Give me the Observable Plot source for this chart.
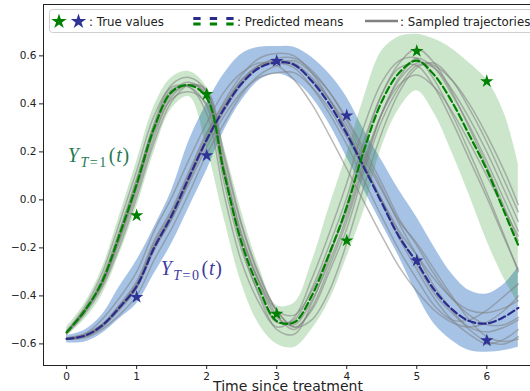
<!DOCTYPE html>
<html><head><meta charset="utf-8">
<script src="https://cdn.jsdelivr.net/npm/d3@7"></script>
<script src="https://cdn.jsdelivr.net/npm/@observablehq/plot@0.6"></script>
<style>html,body{margin:0;padding:0;background:#fff;} svg{display:block}</style>
</head><body><div id="chart"></div>
<script>
// ---- data ----
const times = [0,0.25,0.5,0.75,1,1.25,1.5,1.75,2,2.25,2.5,2.75,3,3.25,3.5,3.75,4,4.25,4.5,4.75,5,5.25,5.5,5.75,6,6.25,6.45];

const greenMean = [-0.552,-0.465,-0.345,-0.15,0.065,0.30,0.45,0.478,0.425,0.11,-0.18,-0.37,-0.505,-0.51,-0.40,-0.225,-0.03,0.21,0.41,0.53,0.58,0.52,0.41,0.27,0.125,-0.05,-0.19];
const greenHi   = [-0.530,-0.435,-0.29,-0.07,0.16,0.39,0.51,0.535,0.47,0.22,-0.05,-0.28,-0.44,-0.43,-0.26,-0.03,0.19,0.43,0.62,0.68,0.69,0.67,0.63,0.57,0.50,0.36,0.15];
const greenLo   = [-0.568,-0.50,-0.40,-0.23,-0.03,0.20,0.38,0.43,0.22,-0.08,-0.35,-0.52,-0.60,-0.615,-0.54,-0.42,-0.24,-0.04,0.22,0.38,0.455,0.36,0.20,0.02,-0.17,-0.33,-0.43];

const blueMean = [-0.579,-0.567,-0.525,-0.45,-0.36,-0.20,-0.065,0.095,0.25,0.38,0.485,0.55,0.573,0.563,0.495,0.40,0.275,0.133,-0.012,-0.155,-0.26,-0.375,-0.455,-0.505,-0.515,-0.487,-0.45];
const blueHi   = [-0.565,-0.544,-0.482,-0.364,-0.253,-0.114,0.039,0.247,0.40,0.525,0.608,0.636,0.639,0.636,0.594,0.525,0.428,0.289,0.164,0.039,-0.072,-0.197,-0.308,-0.378,-0.392,-0.35,-0.281];
const blueLo   = [-0.595,-0.593,-0.558,-0.496,-0.433,-0.308,-0.183,-0.031,0.122,0.289,0.414,0.497,0.525,0.497,0.428,0.317,0.178,0.039,-0.1,-0.239,-0.392,-0.517,-0.586,-0.628,-0.635,-0.628,-0.614];

const greenSamples = [
  [-0.545,-0.45,-0.31,-0.10,0.12,0.35,0.47,0.47,0.36,0.02,-0.26,-0.43,-0.53,-0.49,-0.33,-0.14,0.07,0.31,0.49,0.58,0.59,0.50,0.36,0.20,0.03,-0.15,-0.30],
  [-0.56,-0.48,-0.37,-0.20,0.01,0.24,0.41,0.48,0.46,0.19,-0.10,-0.31,-0.46,-0.53,-0.46,-0.30,-0.12,0.12,0.33,0.47,0.56,0.55,0.46,0.34,0.20,0.04,-0.09],
  [-0.55,-0.47,-0.34,-0.14,0.08,0.32,0.48,0.51,0.45,0.12,-0.19,-0.40,-0.54,-0.56,-0.43,-0.24,-0.02,0.23,0.44,0.57,0.63,0.57,0.45,0.30,0.14,-0.03,-0.17],
  [-0.55,-0.46,-0.35,-0.16,0.05,0.28,0.42,0.45,0.40,0.10,-0.16,-0.34,-0.46,-0.48,-0.38,-0.22,-0.05,0.17,0.36,0.48,0.52,0.47,0.37,0.24,0.10,-0.04,-0.15],
  [-0.552,-0.47,-0.35,-0.16,0.06,0.30,0.45,0.49,0.43,0.13,-0.15,-0.35,-0.49,-0.52,-0.42,-0.26,-0.07,0.15,0.36,0.50,0.57,0.56,0.50,0.40,0.27,0.12,-0.02],
  [-0.55,-0.46,-0.33,-0.13,0.09,0.31,0.46,0.47,0.39,0.07,-0.21,-0.39,-0.51,-0.50,-0.37,-0.19,0.01,0.25,0.44,0.55,0.56,0.47,0.33,0.17,0.01,-0.16,-0.29],
  [-0.555,-0.465,-0.355,-0.17,0.05,0.29,0.44,0.48,0.44,0.14,-0.14,-0.34,-0.48,-0.54,-0.45,-0.28,-0.09,0.14,0.36,0.51,0.59,0.55,0.44,0.31,0.16,0.00,-0.13],
  [-0.555,-0.47,-0.36,-0.18,0.03,0.26,0.43,0.48,0.45,0.17,-0.11,-0.32,-0.46,-0.53,-0.50,-0.38,-0.18,0.06,0.28,0.45,0.55,0.57,0.50,0.38,0.24,0.08,-0.05]
];
const blueSamples = [
  [-0.575,-0.56,-0.50,-0.41,-0.30,-0.13,0.01,0.17,0.32,0.45,0.53,0.57,0.56,0.50,0.40,0.27,0.13,-0.01,-0.15,-0.28,-0.38,-0.46,-0.51,-0.53,-0.51,-0.46,-0.40],
  [-0.58,-0.575,-0.54,-0.48,-0.40,-0.25,-0.12,0.03,0.19,0.32,0.44,0.52,0.56,0.58,0.53,0.45,0.34,0.21,0.07,-0.08,-0.19,-0.31,-0.41,-0.48,-0.52,-0.52,-0.49],
  [-0.58,-0.57,-0.53,-0.45,-0.35,-0.18,-0.05,0.11,0.27,0.41,0.52,0.59,0.61,0.60,0.53,0.42,0.29,0.14,-0.01,-0.16,-0.29,-0.41,-0.50,-0.56,-0.60,-0.58,-0.54],
  [-0.575,-0.56,-0.52,-0.45,-0.36,-0.20,-0.08,0.07,0.22,0.35,0.45,0.51,0.53,0.53,0.47,0.38,0.26,0.13,0.00,-0.13,-0.23,-0.33,-0.41,-0.46,-0.47,-0.45,-0.42],
  [-0.58,-0.565,-0.525,-0.44,-0.35,-0.19,-0.06,0.10,0.26,0.39,0.49,0.56,0.58,0.56,0.50,0.42,0.31,0.17,0.04,-0.09,-0.18,-0.29,-0.40,-0.50,-0.57,-0.59,-0.58],
  [-0.577,-0.565,-0.52,-0.44,-0.34,-0.17,-0.04,0.12,0.28,0.40,0.50,0.56,0.57,0.55,0.47,0.36,0.23,0.08,-0.07,-0.21,-0.33,-0.44,-0.50,-0.50,-0.46,-0.40,-0.35],
  [-0.58,-0.57,-0.53,-0.46,-0.37,-0.21,-0.08,0.08,0.24,0.37,0.48,0.55,0.58,0.57,0.51,0.42,0.29,0.15,0.00,-0.14,-0.27,-0.39,-0.47,-0.53,-0.55,-0.53,-0.50],
  [-0.578,-0.568,-0.53,-0.455,-0.36,-0.19,-0.07,0.09,0.25,0.39,0.50,0.56,0.59,0.59,0.54,0.45,0.33,0.19,0.05,-0.10,-0.23,-0.36,-0.46,-0.54,-0.59,-0.60,-0.57]
];

const starTimes = [1,2,3,4,5,6];
const greenTrue = [-0.065,0.44,-0.475,-0.17,0.62,0.494];
const blueTrue  = [-0.405,0.185,0.578,0.351,-0.253,-0.586];

const xTicks = [0,1,2,3,4,5,6];
const yTicks = [-0.6,-0.4,-0.2,0.0,0.2,0.4,0.6];

// ---- colours ----
const GREEN = "#008000", NAVY = "#2b2b8c", BLUEFILL = "#2a6fc4", STARBLUE = "#2f3396";

// ---- tables ----
const band = (lo, hi) => times.map((t, i) => ({t, lo: lo[i], hi: hi[i]}));
const series = (v) => times.map((t, i) => ({t, v: v[i]}));
const samples = (arr, g) => arr.flatMap((s, k) => times.map((t, i) => ({t, v: s[i], id: g + k})));
const stars = (v) => starTimes.map((t, i) => ({t, v: v[i]}));

const plot = Plot.plot({
  width: 530, height: 391,
  marginLeft: 43, marginRight: 0, marginTop: 4, marginBottom: 26,
  x: {domain: [-0.33, 6.624], label: null},
  y: {domain: [-0.690, 0.814], label: null},
  style: {fontFamily: "DejaVu Sans", fontSize: "10.5px", color: "#222", background: "#fff"},
  marks: [
    Plot.areaY(band(blueLo, blueHi), {x: "t", y1: "lo", y2: "hi", fill: BLUEFILL, fillOpacity: 0.42, curve: "catmull-rom"}),
    Plot.areaY(band(greenLo, greenHi), {x: "t", y1: "lo", y2: "hi", fill: GREEN, fillOpacity: 0.2, curve: "catmull-rom"}),
    Plot.line(samples(blueSamples, "b"), {x: "t", y: "v", z: "id", stroke: "gray", strokeOpacity: 0.55, strokeWidth: 1.5, curve: "catmull-rom"}),
    Plot.line(samples(greenSamples, "g"), {x: "t", y: "v", z: "id", stroke: "gray", strokeOpacity: 0.55, strokeWidth: 1.5, curve: "catmull-rom"}),
    Plot.line(series(blueMean), {x: "t", y: "v", stroke: NAVY, strokeWidth: 2.2, strokeDasharray: "7,3.5", curve: "catmull-rom"}),
    Plot.line(series(greenMean), {x: "t", y: "v", stroke: GREEN, strokeWidth: 2.2, strokeDasharray: "7,3.5", curve: "catmull-rom"}),
    Plot.dot(stars(greenTrue), {x: "t", y: "v", symbol: "star", r: 4.2, fill: GREEN, stroke: "none"}),
    Plot.dot(stars(blueTrue), {x: "t", y: "v", symbol: "star", r: 4.2, fill: STARBLUE, stroke: "none"}),
    Plot.axisX(xTicks, {tickSize: 4, tickPadding: 3, label: null}),
    Plot.axisY(yTicks, {tickSize: 4, tickPadding: 3, tickFormat: d3.format(".1f"), label: null})
  ]
});

const svg = d3.select(plot);
const sx = plot.scale("x"), sy = plot.scale("y");
const [x0, x1] = sx.range, [yb, yt] = sy.range;

// spines (left, bottom, top)
const sp = svg.append("g").attr("stroke", "#222").attr("stroke-width", 1);
sp.append("line").attr("x1", x0 + 0.5).attr("x2", x0 + 0.5).attr("y1", yt).attr("y2", yb + 0.5);
sp.append("line").attr("x1", x0).attr("x2", x1).attr("y1", yb + 0.5).attr("y2", yb + 0.5);
sp.append("line").attr("x1", x0).attr("x2", x1).attr("y1", yt + 0.5).attr("y2", yt + 0.5);

// curve labels (math-style)
function mathLabel(x, y, sub, color) {
  const t = svg.append("text")
    .attr("x", sx.apply(x)).attr("y", sy.apply(y))
    .attr("text-anchor", "start")
    .attr("fill", color)
    .style("font-family", "'Liberation Serif', 'DejaVu Serif', serif")
    .style("font-size", "20px");
  t.append("tspan").style("font-style", "italic").text("Y");
  t.append("tspan").attr("dy", 5).attr("dx", 1.5).style("font-size", "14px").style("font-style", "italic").text("T");
  t.append("tspan").style("font-size", "14px").attr("dx", 1.5).text("=");
  t.append("tspan").style("font-size", "14px").attr("dx", 1.5).text(sub);
  t.append("tspan").attr("dy", -5).attr("dx", 2.5).text("(");
  t.append("tspan").style("font-style", "italic").attr("dx", 0.8).text("t");
  t.append("tspan").attr("dx", 0.8).text(")");
}
mathLabel(0.025, 0.155, "1", "#1f7a52");
mathLabel(1.35, -0.315, "0", "#3c3c9e");

// x axis label
svg.append("text")
  .attr("x", 288).attr("y", 390.5)
  .attr("text-anchor", "middle")
  .attr("fill", "#222")
  .style("font-family", "DejaVu Sans").style("font-size", "14px")
  .text("Time since treatment");

// legend
const lg = svg.append("g").attr("text-anchor", "start").style("font-family", "DejaVu Sans").style("font-size", "11.8px");
lg.append("rect").attr("x", 49.5).attr("y", 9.5).attr("width", 500).attr("height", 23)
  .attr("rx", 3).attr("fill", "#fff").attr("fill-opacity", 0.8).attr("stroke", "#cfcfcf");
const starPath = d3.symbol(d3.symbolStar, 74)();
lg.append("path").attr("d", starPath).attr("transform", "translate(59,21.5)").attr("fill", GREEN);
lg.append("path").attr("d", starPath).attr("transform", "translate(78.5,21.5)").attr("fill", STARBLUE);
lg.append("text").attr("x", 89).attr("y", 25.5).attr("fill", "#222").text(": True values");
lg.append("line").attr("x1", 193.3).attr("x2", 234).attr("y1", 18.5).attr("y2", 18.5)
  .attr("stroke", NAVY).attr("stroke-width", 3.2).attr("stroke-dasharray", "7.3,9.2");
lg.append("line").attr("x1", 193.3).attr("x2", 234).attr("y1", 24).attr("y2", 24)
  .attr("stroke", GREEN).attr("stroke-width", 3.2).attr("stroke-dasharray", "7.3,9.2");
lg.append("text").attr("x", 237).attr("y", 25.5).attr("fill", "#222").text(": Predicted means");
lg.append("line").attr("x1", 365).attr("x2", 398).attr("y1", 21).attr("y2", 21)
  .attr("stroke", "gray").attr("stroke-width", 2.6);
lg.append("text").attr("x", 400).attr("y", 25.5).attr("fill", "#222").text(": Sampled trajectories");

document.getElementById("chart").append(plot);
</script>
</body></html>
